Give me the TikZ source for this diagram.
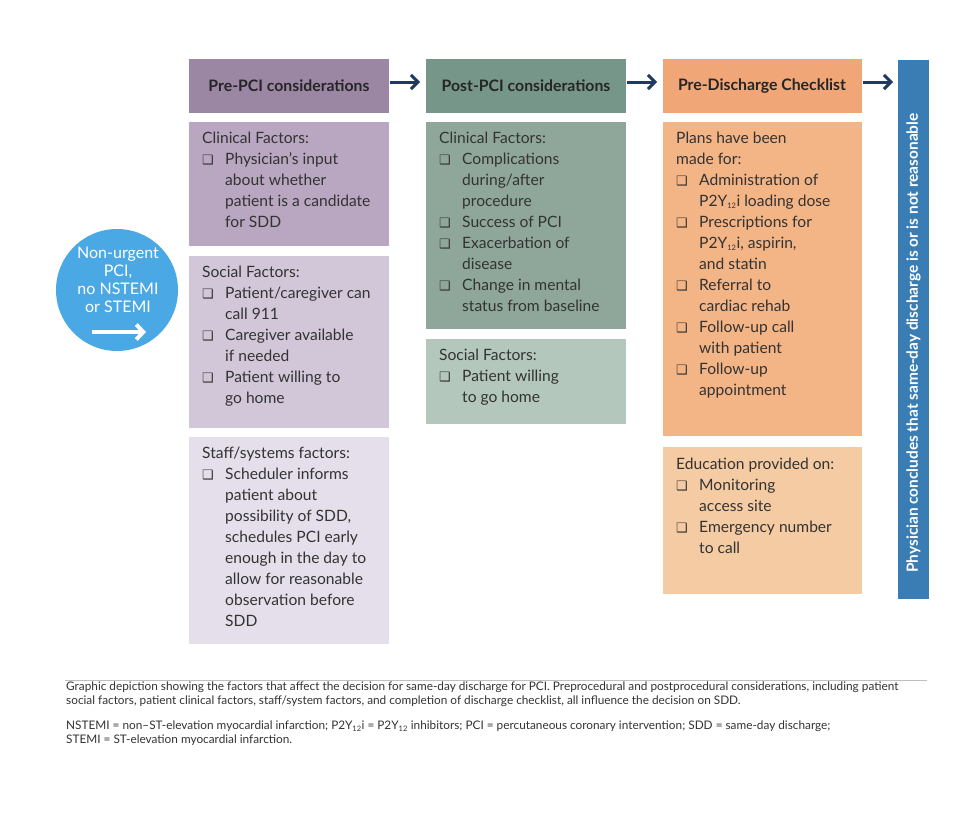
\documentclass[tikz,border=0pt]{standalone}
\usepackage{fontspec}
\usetikzlibrary{arrows.meta}
\setmainfont{Lato}
\newfontfamily\djfont{DejaVu Sans}
\newcommand{\cb}{\makebox[23pt][l]{{\djfont\fontsize{13}{13}\selectfont ❑}}}
\newcommand{\ind}{\hspace*{23pt}}
\newcommand{\sub}[1]{\textsubscript{\fontsize{7.5}{7.5}\selectfont #1}}
\definecolor{h1}{HTML}{9B86A3}\definecolor{a1}{HTML}{B9A6C0}\definecolor{a2}{HTML}{D2C7D8}\definecolor{a3}{HTML}{E4DFEB}
\definecolor{h2}{HTML}{76968A}\definecolor{b1}{HTML}{8FA79A}\definecolor{b2}{HTML}{B3C7BD}
\definecolor{h3}{HTML}{F0A677}\definecolor{c1}{HTML}{F3B486}\definecolor{c2}{HTML}{F5CBA3}
\definecolor{navy}{HTML}{1F3864}\definecolor{bar}{HTML}{3A7DB5}\definecolor{circ}{HTML}{4AA8E4}
\definecolor{txt}{HTML}{333333}
\begin{document}
\begin{tikzpicture}[x=1pt,y=-1pt,
  hd/.style={font=\bfseries\fontsize{15.8}{17}\selectfont,text=black!85},
  bt/.style={anchor=north west,align=left,inner sep=0pt,font=\fontsize{15.6}{21}\selectfont,text=txt},
  arr/.style={navy,line width=3pt,-{Straight Barb[length=7pt,width=14pt]}}]
\useasboundingbox[fill=white] (0,0) rectangle (960,814);
% column 1
\fill[h1] (189,59) rectangle (389,113); \node[hd] (h1) at (289,86) {Pre-PCI considerations};
\fill[a1] (189,122) rectangle (389,246);
\fill[a2] (189,256) rectangle (389,428);
\fill[a3] (189,437) rectangle (389,644);
\node[bt] (t11) at (202,132) {Clinical Factors:\\\cb Physician’s input\\\ind about whether\\\ind patient is a candidate\\\ind for SDD};
\node[bt] (t12) at (202,266) {Social Factors:\\\cb Patient/caregiver can\\\ind call 911\\\cb Caregiver available\\\ind if needed\\\cb Patient willing to\\\ind go home};
\node[bt] (t13) at (202,447) {Staff/systems factors:\\\cb Scheduler informs\\\ind patient about\\\ind possibility of SDD,\\\ind schedules PCI early\\\ind enough in the day to\\\ind allow for reasonable\\\ind observation before\\\ind SDD};
% column 2
\fill[h2] (426,59) rectangle (626,113); \node[hd] (h2) at (526,86) {Post-PCI considerations};
\fill[b1] (426,122) rectangle (626,329);
\fill[b2] (426,339) rectangle (626,424);
\node[bt] (t21) at (439,132) {Clinical Factors:\\\cb Complications\\\ind during/after\\\ind procedure\\\cb Success of PCI\\\cb Exacerbation of\\\ind disease\\\cb Change in mental\\\ind status from baseline};
\node[bt] (t22) at (439,349) {Social Factors:\\\cb Patient willing\\\ind to go home};
% column 3
\fill[h3] (663,59) rectangle (862,113); \node[hd] (h3) at (762,86) {Pre-Discharge Checklist};
\fill[c1] (663,122) rectangle (862,436);
\fill[c2] (663,447) rectangle (862,594);
\node[bt] (t31) at (676,132) {Plans have been\\made for:\\\cb Administration of\\\ind P2Y\sub{12}i loading dose\\\cb Prescriptions for\\\ind P2Y\sub{12}i, aspirin,\\\ind and statin\\\cb Referral to\\\ind cardiac rehab\\\cb Follow-up call\\\ind with patient\\\cb Follow-up\\\ind appointment};
\node[bt] (t32) at (676,458) {Education provided on:\\\cb Monitoring\\\ind access site\\\cb Emergency number\\\ind to call};
% bar
\fill[bar] (898,60) rectangle (929,599);
\node[rotate=90,text=white,font=\bfseries\fontsize{15.4}{16}\selectfont] (bar) at (913.5,343) {Physician concludes that same-day discharge is or is not reasonable};
% arrows
\coordinate (e1) at (390,82); \coordinate (f1) at (420,82);
\coordinate (e2) at (627,82); \coordinate (f2) at (657,82);
\coordinate (e3) at (863,82); \coordinate (f3) at (893,82);
\draw[arr] (e1) -- (f1); \draw[arr] (e2) -- (f2); \draw[arr] (e3) -- (f3);
% circle
\fill[circ] (117,290) circle (61);
\node[text=white,align=center,font=\fontsize{16}{18}\selectfont] (circ) at (118,280) {Non-urgent\\PCI,\\no NSTEMI\\or STEMI};
\coordinate (w1) at (92,332); \coordinate (w2) at (146,332);
\draw[white,line width=4pt,-{Straight Barb[length=7pt,width=15pt]}] (w1) -- (w2);
% caption
\draw[gray!50,line width=1pt] (65,680) -- (927,680);
\node[anchor=north west,align=left,inner sep=0pt,text=txt,font=\fontsize{11.8}{14}\selectfont] (cap) at (66,682) {Graphic depiction showing the factors that affect the decision for same-day discharge for PCI. Preprocedural and postprocedural considerations, including patient\\social factors, patient clinical factors, staff/system factors, and completion of discharge checklist, all influence the decision on SDD.\\[11pt]NSTEMI = non–ST-elevation myocardial infarction; P2Y\sub{12}i = P2Y\sub{12} inhibitors; PCI = percutaneous coronary intervention; SDD = same-day discharge;\\STEMI = ST-elevation myocardial infarction.};
\end{tikzpicture}
\end{document}
